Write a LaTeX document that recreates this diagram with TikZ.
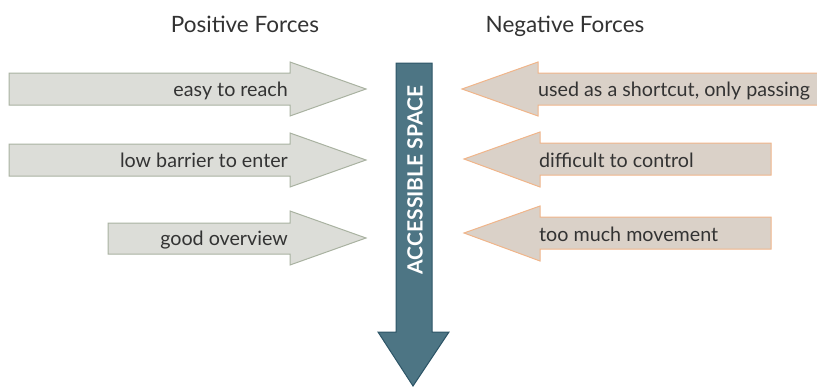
\documentclass[tikz,border=0pt]{standalone}
\usepackage{fontspec}
\setmainfont{Lato}
\begin{document}
\begin{tikzpicture}[x=1pt,y=-1pt,
  posarrow/.style={fill=posfill,draw=posline,line width=1pt},
  negarrow/.style={fill=negfill,draw=negline,line width=1pt},
  mainarrow/.style={fill=mainfill,draw=mainline,line width=1pt},
  lbl/.style={text=txt,font=\fontsize{19.7}{23}\selectfont,inner sep=0pt},
  ttl/.style={text=txt,font=\fontsize{22.5}{26}\selectfont,inner sep=0pt}]
\definecolor{posfill}{HTML}{DCDDD8}
\definecolor{posline}{HTML}{A9B2A1}
\definecolor{negfill}{HTML}{DAD1C8}
\definecolor{negline}{HTML}{F0B58A}
\definecolor{mainfill}{HTML}{4D7584}
\definecolor{mainline}{HTML}{2D5567}
\definecolor{txt}{HTML}{333333}
\useasboundingbox (0,0) rectangle (817,388);
\begin{scope}
\clip (0,0) rectangle (817,388);
% positive arrows
\draw[posarrow] (9,73) -- (290,73) -- (290,62) -- (366,89) -- (290,116) -- (290,105) -- (9,105) -- cycle;
\draw[posarrow] (9,144) -- (290,144) -- (290,133) -- (366,160) -- (290,187) -- (290,176) -- (9,176) -- cycle;
\draw[posarrow] (108,223) -- (290,223) -- (290,211) -- (366,238) -- (290,265) -- (290,254) -- (108,254) -- cycle;
% negative arrows
\draw[negarrow] (830,73) -- (538,73) -- (538,62) -- (462,89) -- (538,116) -- (538,105) -- (830,105) -- cycle;
\draw[negarrow] (771,143) -- (540,143) -- (540,132) -- (464,159) -- (540,187) -- (540,175) -- (771,175) -- cycle;
\draw[negarrow] (771,217) -- (540,217) -- (540,206) -- (464,233) -- (540,261) -- (540,249) -- (771,249) -- cycle;
% main arrow
\draw[mainarrow] (396,63) -- (432,63) -- (432,332) -- (449,332) -- (413,386) -- (378,332) -- (396,332) -- cycle;
\end{scope}
% titles
\node[ttl,anchor=base] (tpos) at (245,32) {Positive Forces};
\node[ttl,anchor=base] (tneg) at (565,32) {Negative Forces};
% labels
\node[lbl,anchor=base east] (p1) at (288,96) {easy to reach};
\node[lbl,anchor=base east] (p2) at (288,167) {low barrier to enter};
\node[lbl,anchor=base east] (p3) at (288,245) {good overview};
\node[lbl,anchor=base west] (n1) at (538,96) {used as a shortcut, only passing};
\node[lbl,anchor=base west] (n2) at (539,167) {difficult to control};
\node[lbl,anchor=base west] (n3) at (539,241) {too much movement};
\node[text=white,font=\fontsize{21}{24}\selectfont\bfseries,inner sep=0pt,rotate=90] (acc) at (415,180) {ACCESSIBLE SPACE};
\end{tikzpicture}
\end{document}
